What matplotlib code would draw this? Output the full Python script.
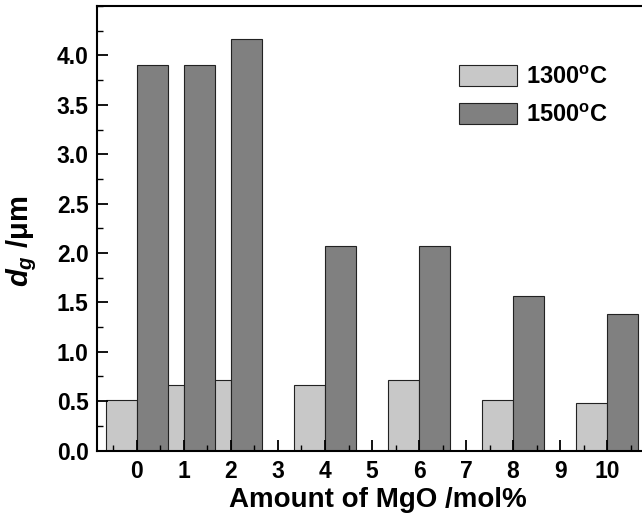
import numpy as np
import matplotlib.pyplot as plt
from matplotlib.ticker import MultipleLocator

plt.rcParams['font.family'] = ['Liberation Sans', 'DejaVu Sans']
plt.rcParams['font.weight'] = 'bold'
plt.rcParams['mathtext.fontset'] = 'custom'
plt.rcParams['mathtext.it'] = 'Liberation Sans:italic:bold'
plt.rcParams['mathtext.rm'] = 'Liberation Sans:bold'

# MgO content (mol%) and grain size (um)
mgo = [0, 1, 2, 4, 6, 8, 10]
d_1300 = [0.51, 0.66, 0.71, 0.66, 0.71, 0.51, 0.48]
d_1500 = [3.90, 3.90, 4.17, 2.07, 2.07, 1.56, 1.38]
xticks = list(range(0, 11))
yticks = [0.0, 0.5, 1.0, 1.5, 2.0, 2.5, 3.0, 3.5, 4.0]

fig = plt.figure(figsize=(6.42, 5.26), dpi=100)
ax = fig.add_axes([0.151, 0.1435, 0.876, 0.845])

x = np.array(mgo)
w = 0.66
ax.bar(x - w/2, d_1300, width=w, color='#c8c8c8', edgecolor='#222222', linewidth=0.8, label='1300$^\\mathregular{o}$C')
ax.bar(x + w/2, d_1500, width=w, color='#808080', edgecolor='#222222', linewidth=0.8, label='1500$^\\mathregular{o}$C')

ax.set_xlim(-0.85, 11.11)
ax.set_ylim(0, 4.5)
ax.set_xticks(xticks)
ax.set_yticks(yticks)
ax.xaxis.set_minor_locator(MultipleLocator(0.5))
ax.yaxis.set_minor_locator(MultipleLocator(0.25))
ax.tick_params(which='major', direction='in', length=8, width=1.3, labelsize=16.5, pad=7)
ax.tick_params(axis='y', which='major', pad=6)
ax.tick_params(which='minor', direction='in', length=4, width=1.0)
ax.yaxis.set_major_formatter(plt.FormatStrFormatter('%.1f'))
for s in ax.spines.values():
    s.set_linewidth(1.5)

ax.set_xlabel('Amount of MgO /mol%', fontsize=20, fontweight='bold', labelpad=3)
ax.set_ylabel('$d_g$ /$\\mathregular{\\mu}$m', fontsize=21, fontweight='bold')
ax.yaxis.set_label_coords(-0.103, 0.47)

leg = fig.legend(loc='upper left', bbox_to_anchor=(0.696, 0.898), frameon=False,
                 fontsize=17, handlelength=2.46, handleheight=0.97, handletextpad=0.38,
                 labelspacing=0.6, borderpad=0)
for t in leg.get_texts():
    t.set_fontweight('bold')

fig.savefig('out.png', dpi=100)
